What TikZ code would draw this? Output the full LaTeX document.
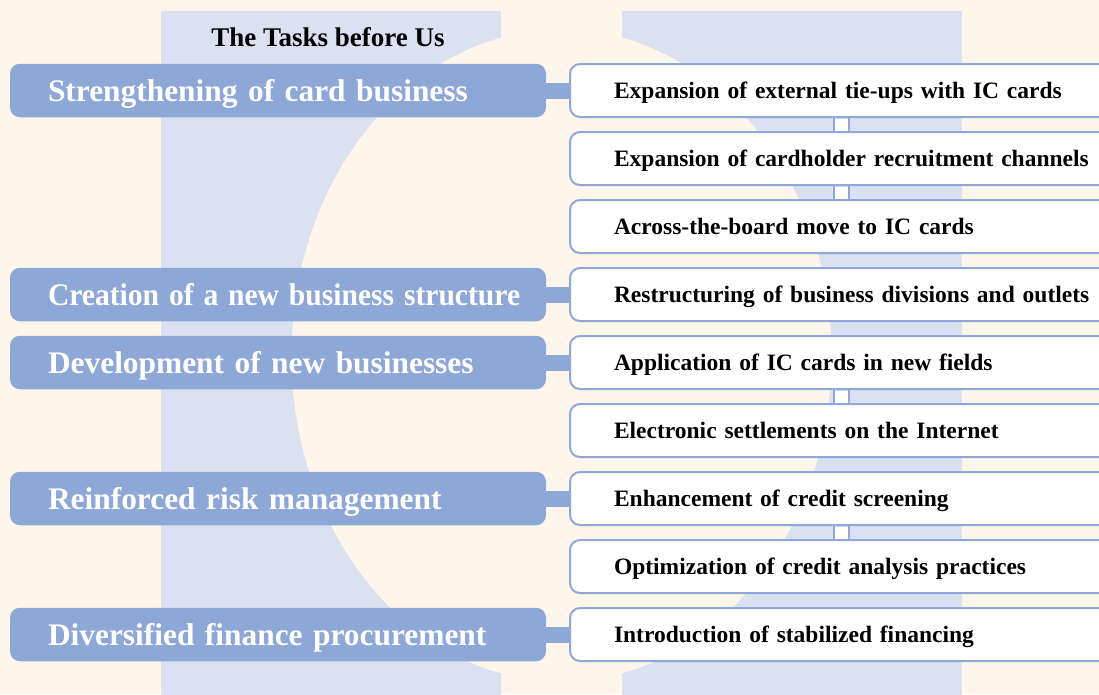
\documentclass[tikz,border=0pt]{standalone}
\usepackage{fontspec}
\usepackage{graphicx}
\setmainfont{Liberation Serif}
\usetikzlibrary{calc}
\definecolor{cream}{RGB}{254,246,234}
\definecolor{colblue}{RGB}{220,225,242}
\definecolor{hdr}{RGB}{141,167,214}
\definecolor{bord}{RGB}{142,168,216}
\pgfdeclarelayer{bg}
\pgfdeclarelayer{conn}
\pgfsetlayers{bg,conn,main}
\tikzset{
  taskbox/.style={fill=hdr, rounded corners=10pt, anchor=west, outer sep=0pt,
    minimum height=53.5pt, text width=536pt, align=left, inner xsep=0pt, inner ysep=0pt,
    text height=21pt, text depth=0pt, text=white,
    font=\fontsize{31.4}{36}\selectfont\bfseries},
  itembox/.style={draw=bord, line width=2pt, fill=white, rounded corners=10pt,
    anchor=west, outer sep=0pt, minimum height=53pt, text width=580pt, align=left,
    inner xsep=0pt, inner ysep=0pt, text height=16pt, text depth=0pt,
    font=\fontsize{23.5}{28}\selectfont\bfseries},
  link/.style={hdr, line width=16pt},
  tube/.style={bord, line width=2pt},
}
\begin{document}
\begin{tikzpicture}[x=1pt, y=-1pt]
\useasboundingbox (0,0) rectangle (1099,694);
\clip (0,0) rectangle (1099,694);
\begin{pgfonlayer}{bg}
  \fill[cream] (0,0) rectangle (1099,694);
  \fill[colblue] (161,11) rectangle (501,700);
  \fill[colblue] (622,11) rectangle (962,700);
  \fill[cream] (561.5,355.5) ellipse [x radius=270, y radius=326];
\end{pgfonlayer}

\node[font=\fontsize{27}{30}\selectfont\bfseries, anchor=base] (title) at (328,46) {The Tasks before Us};

% task groups on the left
\node[taskbox] (h1) at (10,90.5)  {\hspace*{38pt}\mbox{Strengthening of card business}};
\node[taskbox] (h2) at (10,294.5) {\hspace*{38pt}\scalebox{0.942}[1]{Creation of a new business structure}};
\node[taskbox] (h3) at (10,362.5) {\hspace*{38pt}\mbox{Development of new businesses}};
\node[taskbox] (h4) at (10,498.5) {\hspace*{38pt}\mbox{Reinforced risk management}};
\node[taskbox] (h5) at (10,634.5) {\hspace*{38pt}\mbox{Diversified finance procurement}};

% individual measures on the right
\node[itembox] (r1) at (570,90.5)  {\hspace*{44pt}\mbox{Expansion of external tie-ups with IC cards}};
\node[itembox] (r2) at (570,158.5) {\hspace*{44pt}\mbox{Expansion of cardholder recruitment channels}};
\node[itembox] (r3) at (570,226.5) {\hspace*{44pt}\mbox{Across-the-board move to IC cards}};
\node[itembox] (r4) at (570,294.5) {\hspace*{44pt}\mbox{Restructuring of business divisions and outlets}};
\node[itembox] (r5) at (570,362.5) {\hspace*{44pt}\mbox{Application of IC cards in new fields}};
\node[itembox] (r6) at (570,430.5) {\hspace*{44pt}\mbox{Electronic settlements on the Internet}};
\node[itembox] (r7) at (570,498.5) {\hspace*{44pt}\mbox{Enhancement of credit screening}};
\node[itembox] (r8) at (570,566.5) {\hspace*{44pt}\mbox{Optimization of credit analysis practices}};
\node[itembox] (r9) at (570,634.5) {\hspace*{44pt}\mbox{Introduction of stabilized financing}};

% horizontal links from each task to its first measure
\begin{pgfonlayer}{conn}
  \foreach \h/\r in {h1/r1, h2/r4, h3/r5, h4/r7, h5/r9}
    \draw[link] ([yshift=-0.5pt]\h.east) -- ([yshift=-0.5pt]\r.west);
\end{pgfonlayer}

% vertical tubes joining measures of the same task
\coordinate (cx) at (841,0);
\foreach \a/\b in {r1/r2, r2/r3, r5/r6, r7/r8} {
  \fill[white] ([xshift=-6.5pt,yshift=-1.5pt]\a.south -| cx) rectangle ([xshift=6.5pt,yshift=1.5pt]\b.north -| cx);
  \draw[tube] ([xshift=-7.5pt]\a.south -| cx) -- ([xshift=-7.5pt]\b.north -| cx);
  \draw[tube] ([xshift=7.5pt]\a.south -| cx) -- ([xshift=7.5pt]\b.north -| cx);
}
\end{tikzpicture}
\end{document}
